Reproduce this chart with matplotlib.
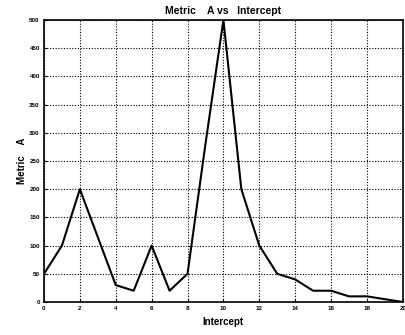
import matplotlib.pyplot as plt
import numpy as np

# values
intercept = [0, 1, 2, 3, 4, 5, 6, 7, 8, 9, 10, 11, 12, 13, 14, 15, 16, 17, 18, 19, 20]
metric_a = [50, 100, 200, 115, 30, 20, 100, 20, 50, 280, 500, 200, 100, 50, 40, 20, 20, 10, 10, 5, 0]

x_ticks = np.arange(0, 21, 2)
y_ticks = np.arange(0, 501, 50)

plt.rcParams['font.family'] = ['Liberation Sans', 'DejaVu Sans']
plt.rcParams['font.weight'] = 'bold'

fig = plt.figure(figsize=(4.05, 3.35), dpi=100)
ax = fig.add_axes([0.1086, 0.0985, 0.886, 0.842])

ax.plot(intercept, metric_a, color='black', linewidth=1.5)

ax.set_xlim(0, 20)
ax.set_ylim(0, 500)
ax.set_xticks(x_ticks)
ax.set_yticks(y_ticks)
ax.tick_params(axis='both', labelsize=4.5, length=2, direction='in', pad=3)
for lbl in ax.get_xticklabels() + ax.get_yticklabels():
    lbl.set_fontweight('bold')

ax.grid(True, color='black', linestyle=(0, (1, 1.5)), linewidth=0.8)
for sp in ax.spines.values():
    sp.set_linewidth(1.2)
    sp.set_color('black')

ax.set_title('Metric    A vs   Intercept', fontsize=7.5, fontweight='bold', pad=4)
ax.set_xlabel('Intercept', fontsize=7, fontweight='bold', labelpad=4)
ax.set_ylabel('Metric    A', fontsize=7, fontweight='bold', labelpad=2)

fig.savefig('out.png', dpi=100)
